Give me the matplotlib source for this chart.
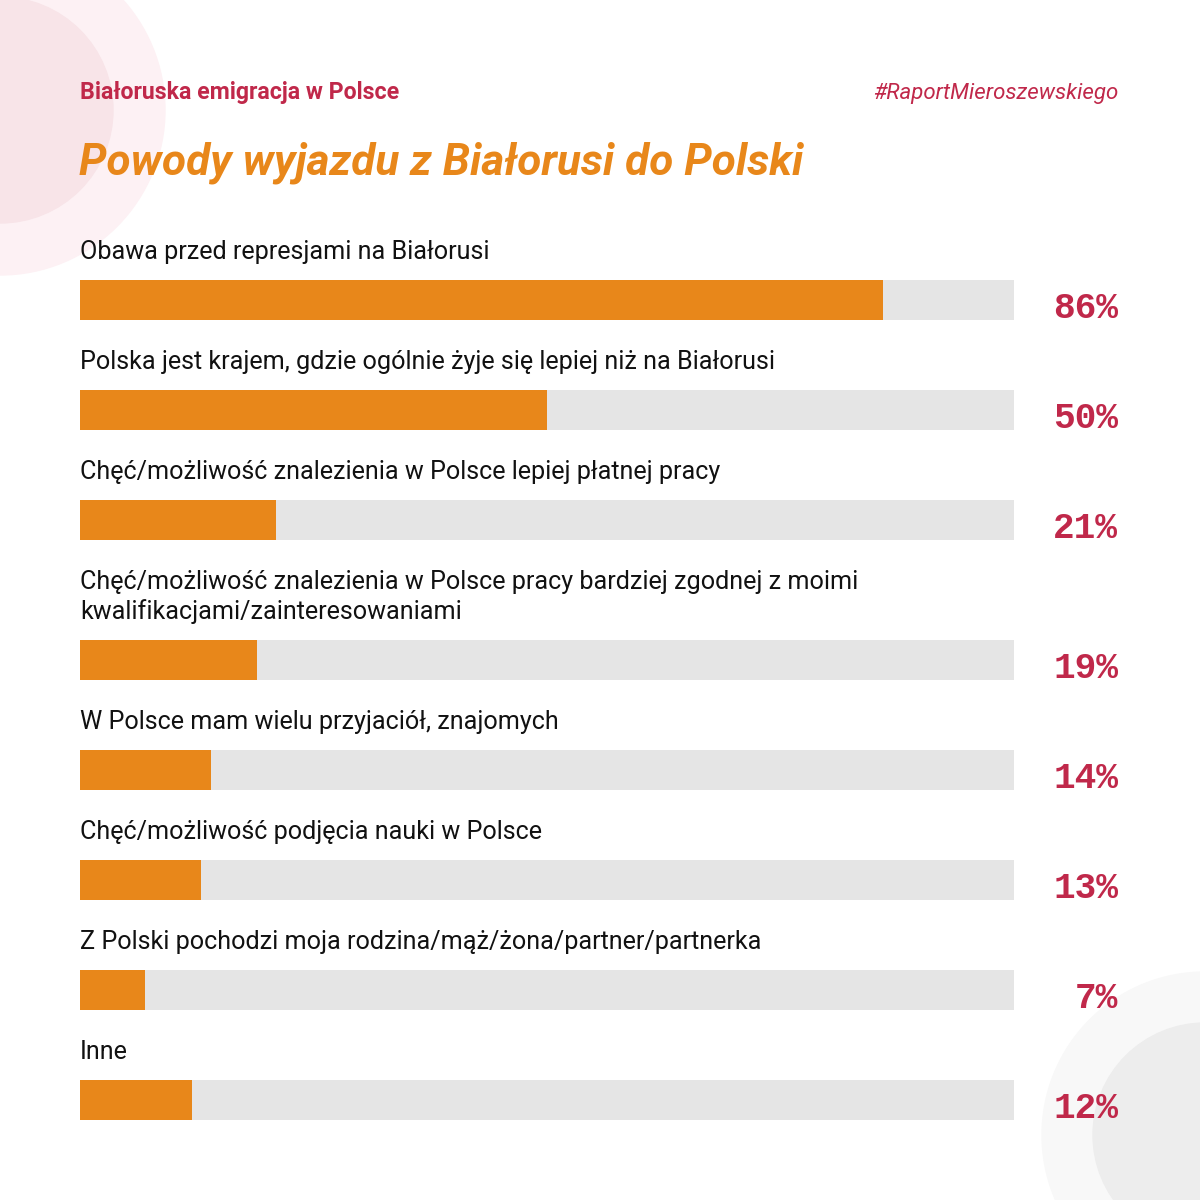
import matplotlib
matplotlib.use("Agg")
import matplotlib.pyplot as plt
from matplotlib.patches import Circle

categories = [
    "Obawa przed represjami na Białorusi",
    "Polska jest krajem, gdzie ogólnie żyje się lepiej niż na Białorusi",
    "Chęć/możliwość znalezienia w Polsce lepiej płatnej pracy",
    "Chęć/możliwość znalezienia w Polsce pracy bardziej zgodnej z moimi\nkwalifikacjami/zainteresowaniami",
    "W Polsce mam wielu przyjaciół, znajomych",
    "Chęć/możliwość podjęcia nauki w Polsce",
    "Z Polski pochodzi moja rodzina/mąż/żona/partner/partnerka",
    "Inne",
]
values = [86, 50, 21, 19, 14, 13, 7, 12]
value_labels = ["86%", "50%", "21%", "19%", "14%", "13%", "7%", "12%"]

subtitle = "Białoruska emigracja w Polsce"
hashtag = "#RaportMieroszewskiego"
title = "Powody wyjazdu z Białorusi do Polski"

ORANGE = "#e8871a"
GREY = "#e5e5e5"
CRIMSON = "#c0284a"

W = H = 1200
fig = plt.figure(figsize=(12, 12), dpi=100)
fig.patch.set_facecolor("white")

# background decoration axes in pixel coordinates
bg = fig.add_axes([0, 0, 1, 1])
bg.set_xlim(0, W)
bg.set_ylim(H, 0)
bg.axis("off")
bg.add_patch(Circle((0, 110), 165, color="#fdf1f4", zorder=0))
bg.add_patch(Circle((0, 110), 113, color="#f8e4e8", zorder=1))
bg.add_patch(Circle((1205, 1135), 163, color="#f8f8f8", zorder=0))
bg.add_patch(Circle((1205, 1135), 112, color="#ededed", zorder=1))

bg.text(80, 92, subtitle, color=CRIMSON, fontsize=16.7, fontweight="bold",
        family="Roboto", va="center", ha="left")
bg.text(1118, 93, hashtag, color=CRIMSON, fontsize=16, fontstyle="italic",
        family="Roboto", va="center", ha="right")
bg.text(79, 163, title, color=ORANGE, fontsize=31.7, fontweight="bold",
        fontstyle="italic", family="Roboto", va="center", ha="left")

# compute row positions (pixel units) from label line counts
centers = []
y = 300
for i, c in enumerate(categories):
    nlines = c.count("\n") + 1
    if i > 0:
        y += 110 + 30 * (nlines - 1)
    centers.append(y)

# bar axes: x in data values (0-100), y in pixel units
x0, x1 = 80, 1014
ax = fig.add_axes([x0 / W, 0, (x1 - x0) / W, 1])
ax.set_xlim(0, 100)
ax.set_ylim(H, 0)
ax.axis("off")
ax.patch.set_alpha(0)

ax.barh(centers, [100] * len(values), height=40, left=0, color=GREY, zorder=1)
ax.barh(centers, values, height=40, left=0, color=ORANGE, zorder=2)

for c, yc, lab in zip(categories, centers, value_labels):
    lines = c.split("\n")
    n = len(lines)
    for k, line in enumerate(lines):
        ax.text(0, yc - 41 - 30 * (n - 1 - k), line, fontsize=18.1, family="Roboto",
                color="#111111", va="baseline", ha="left")
    bg.text(1118, yc + 9, lab, fontsize=26, fontweight="bold", family="Liberation Mono",
            color=CRIMSON, va="center", ha="right")

fig.savefig("out.png", dpi=100, facecolor="white")
